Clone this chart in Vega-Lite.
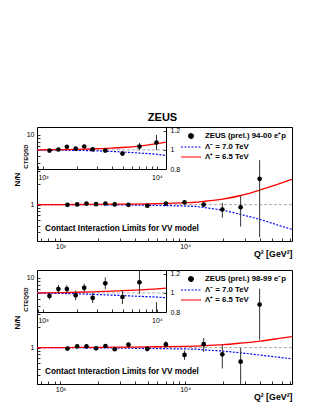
{
  "$schema": "https://vega.github.io/schema/vega-lite/v6.json",
  "padding": {"left": 12, "top": 111, "right": 0, "bottom": 0},
  "bounds": "flush",
  "spacing": 29,
  "config": {
    "font": "Liberation Sans",
    "view": {"stroke": "#000", "strokeWidth": 1},
    "axis": {"grid": false, "tickColor": "#000", "domainColor": "#000", "labelColor": "#000", "titleColor": "#000", "labelFlush": false, "labelOverlap": false, "tickWidth": 0.8},
    "legend": {"padding": 0, "labelFontSize": 7.8, "labelFontWeight": "bold", "labelColor": "#000", "symbolSize": 100, "labelOffset": 8, "rowPadding": 0, "labelLimit": 300}
  },
  "resolve": {"scale": {"color": "independent"}, "legend": {"color": "independent"}},
  "datasets": {
    "topPts": [
      {"q2": 1140, "r": 0.993, "lo": 0.983, "hi": 1.003},
      {"q2": 1365, "r": 1.004, "lo": 0.994, "hi": 1.014},
      {"q2": 1620, "r": 1.033, "lo": 1.022, "hi": 1.044},
      {"q2": 1935, "r": 1.013, "lo": 1.001, "hi": 1.025},
      {"q2": 2300, "r": 1.036, "lo": 1.023, "hi": 1.049},
      {"q2": 2730, "r": 1.006, "lo": 0.992, "hi": 1.02},
      {"q2": 3520, "r": 0.993, "lo": 0.977, "hi": 1.009},
      {"q2": 4980, "r": 0.962, "lo": 0.94, "hi": 0.984},
      {"q2": 7020, "r": 1.035, "lo": 0.997, "hi": 1.073},
      {"q2": 9900, "r": 1.077, "lo": 0.997, "hi": 1.157},
      {"q2": 14100, "r": 1.0, "lo": 0.92, "hi": 1.08},
      {"q2": 19900, "r": 0.85, "lo": 0.65, "hi": 1.05},
      {"q2": 27900, "r": 0.914, "lo": 0.484, "hi": 1.344},
      {"q2": 39600, "r": 2.34, "lo": 0.34, "hi": 4.34}
    ],
    "botPts": [
      {"q2": 1140, "r": 0.968, "lo": 0.933, "hi": 1.003},
      {"q2": 1365, "r": 1.04, "lo": 0.997, "hi": 1.083},
      {"q2": 1620, "r": 1.04, "lo": 0.997, "hi": 1.083},
      {"q2": 1935, "r": 0.975, "lo": 0.925, "hi": 1.025},
      {"q2": 2300, "r": 1.053, "lo": 1.01, "hi": 1.096},
      {"q2": 2730, "r": 0.947, "lo": 0.894, "hi": 1.0},
      {"q2": 3520, "r": 1.1, "lo": 1.038, "hi": 1.162},
      {"q2": 4980, "r": 0.957, "lo": 0.884, "hi": 1.03},
      {"q2": 7020, "r": 1.111, "lo": 0.991, "hi": 1.231},
      {"q2": 9900, "r": 0.784, "lo": 0.664, "hi": 0.904},
      {"q2": 14100, "r": 1.12, "lo": 0.87, "hi": 1.37},
      {"q2": 19900, "r": 0.8, "lo": 0.5, "hi": 1.1},
      {"q2": 27900, "r": 0.627, "lo": 0.267, "hi": 0.987},
      {"q2": 39600, "r": 4.14, "lo": 1.3, "hi": 7.0}
    ],
    "topRed": [
      {"q2": 650, "r": 1.0}, {"q2": 886, "r": 1.0}, {"q2": 1000, "r": 1.001}, {"q2": 1500, "r": 1.003},
      {"q2": 2000, "r": 1.006}, {"q2": 3000, "r": 1.012}, {"q2": 4000, "r": 1.018}, {"q2": 5000, "r": 1.025},
      {"q2": 7000, "r": 1.04}, {"q2": 10000, "r": 1.065}, {"q2": 12000, "r": 1.08}, {"q2": 14000, "r": 1.11},
      {"q2": 20000, "r": 1.2}, {"q2": 28000, "r": 1.35}, {"q2": 40000, "r": 1.62}, {"q2": 55000, "r": 1.95},
      {"q2": 72000, "r": 2.3}
    ],
    "topBlue": [
      {"q2": 650, "r": 1.0}, {"q2": 886, "r": 0.999}, {"q2": 1000, "r": 0.999}, {"q2": 1500, "r": 0.997},
      {"q2": 2000, "r": 0.995}, {"q2": 3000, "r": 0.99}, {"q2": 4000, "r": 0.984}, {"q2": 5000, "r": 0.978},
      {"q2": 7000, "r": 0.967}, {"q2": 10000, "r": 0.953}, {"q2": 12000, "r": 0.94}, {"q2": 14000, "r": 0.91},
      {"q2": 20000, "r": 0.83}, {"q2": 28000, "r": 0.72}, {"q2": 40000, "r": 0.61}, {"q2": 55000, "r": 0.51},
      {"q2": 72000, "r": 0.44}
    ],
    "botRed": [
      {"q2": 650, "r": 1.0}, {"q2": 886, "r": 1.0}, {"q2": 1000, "r": 1.001}, {"q2": 1500, "r": 1.004},
      {"q2": 2000, "r": 1.007}, {"q2": 3000, "r": 1.013}, {"q2": 4000, "r": 1.018}, {"q2": 5000, "r": 1.023},
      {"q2": 7000, "r": 1.032}, {"q2": 10000, "r": 1.042}, {"q2": 12000, "r": 1.05}, {"q2": 14000, "r": 1.065},
      {"q2": 20000, "r": 1.1}, {"q2": 28000, "r": 1.16}, {"q2": 40000, "r": 1.24}, {"q2": 55000, "r": 1.34},
      {"q2": 72000, "r": 1.44}
    ],
    "botBlue": [
      {"q2": 650, "r": 1.0}, {"q2": 886, "r": 0.999}, {"q2": 1000, "r": 0.998}, {"q2": 1500, "r": 0.994},
      {"q2": 2000, "r": 0.99}, {"q2": 3000, "r": 0.983}, {"q2": 4000, "r": 0.977}, {"q2": 5000, "r": 0.972},
      {"q2": 7000, "r": 0.964}, {"q2": 10000, "r": 0.956}, {"q2": 12000, "r": 0.95}, {"q2": 14000, "r": 0.93},
      {"q2": 20000, "r": 0.89}, {"q2": 28000, "r": 0.84}, {"q2": 40000, "r": 0.78}, {"q2": 55000, "r": 0.73},
      {"q2": 72000, "r": 0.69}
    ]
  },
  "vconcat": [
    {
      "width": 255,
      "height": 114,
      "title": {"text": "ZEUS", "fontSize": 11, "fontWeight": "bold", "offset": 4, "dx": -2, "color": "#000"},
      "resolve": {"scale": {"x": "independent", "y": "independent"}},
      "layer": [
        {
          "data": {"values": [{}]},
          "mark": {"type": "rule", "color": "#999", "strokeDash": [3, 2], "strokeWidth": 0.8},
          "encoding": {
            "y": {"datum": 1, "type": "quantitative", "scale": {"type": "log", "domain": [0.3, 13], "nice": false},
              "axis": {"orient": "left", "labels": false, "ticks": false, "domain": false, "title": "CTEQ5D", "titleX": -9, "titleY": 29, "titleFontSize": 6, "titleFontWeight": "bold"}}
          }
        },
        {
          "layer": [
            {
              "data": {"name": "topBlue"},
              "mark": {"type": "line", "strokeDash": [2, 1.5], "strokeWidth": 1.2, "clip": true, "interpolate": "monotone"},
              "encoding": {
                "x": {"field": "q2", "type": "quantitative", "scale": {"type": "log", "domain": [650, 72000], "nice": false},
                  "axis": {"orient": "bottom", "values": [700, 800, 900, 1000, 2000, 3000, 4000, 5000, 6000, 7000, 8000, 9000, 10000, 20000, 30000, 40000, 50000, 60000, 70000], "labelExpr": "datum.value == 1000 ? '10³' : datum.value == 10000 ? '10⁴' : ''", "domain": false, "tickSize": -3, "labelPadding": 8.5, "labelBaseline": "middle", "labelFontSize": 7, "title": "Q²  [GeV²]", "titleX": 255, "titleY": 12, "titleAlign": "right", "titleBaseline": "middle", "titleFontSize": 8.8, "titleFontWeight": "bold"}},
                "y": {"field": "r", "type": "quantitative", "scale": {"type": "log", "domain": [0.3, 13], "nice": false},
                  "axis": {"orient": "left", "values": [0.3, 0.4, 0.5, 0.6, 0.7, 0.8, 0.9, 1, 2, 3, 4, 5, 6, 7, 8, 9, 10], "labelExpr": "datum.value == 1 ? '1' : datum.value == 10 ? '10' : ''", "domain": false, "tickSize": -3, "labelPadding": 6, "labelFontSize": 7, "title": "N/N", "titleX": -16, "titleY": 52, "titleFontSize": 8, "titleFontWeight": "bold"}},
                "color": {"datum": "Λ⁻ = 7.0 TeV", "scale": {"domain": ["ZEUS (prel.) 94-00 e⁺p", "Λ⁻ = 7.0 TeV", "Λ⁺ = 6.5 TeV"], "range": ["#000000", "#0000ff", "#ff0000"]},
                  "legend": {"orient": "none", "legendX": 148, "legendY": 3, "title": null,
                    "encode": {"symbols": {"update": {
                      "shape": {"signal": "datum.index === 0 ? 'circle' : 'M-2,0H2'"},
                      "size": {"signal": "datum.index === 0 ? 22 : 100"},
                      "fill": {"signal": "datum.index === 0 ? '#000' : 'transparent'"},
                      "stroke": {"signal": "datum.index === 0 ? 'transparent' : datum.index === 1 ? '#0000ff' : '#ff0000'"},
                      "strokeDash": {"signal": "datum.index === 1 ? [2, 1.5] : [1, 0]"},
                      "strokeWidth": {"value": 1.2}
                    }}}}}
              }
            },
            {
              "data": {"name": "topRed"},
              "mark": {"type": "line", "strokeWidth": 1.3, "clip": true, "interpolate": "monotone"},
              "encoding": {
                "x": {"field": "q2", "type": "quantitative", "scale": {"type": "log", "domain": [650, 72000], "nice": false}},
                "y": {"field": "r", "type": "quantitative", "scale": {"type": "log", "domain": [0.3, 13], "nice": false}},
                "color": {"datum": "Λ⁺ = 6.5 TeV"}
              }
            },
            {
              "data": {"name": "topPts"},
              "mark": {"type": "rule", "color": "#333", "strokeWidth": 1, "clip": true},
              "encoding": {
                "x": {"field": "q2", "type": "quantitative", "scale": {"type": "log", "domain": [650, 72000], "nice": false}},
                "y": {"field": "lo", "type": "quantitative", "scale": {"type": "log", "domain": [0.3, 13], "nice": false}},
                "y2": {"field": "hi"}
              }
            },
            {
              "data": {"name": "topPts"},
              "mark": {"type": "point", "filled": true, "size": 22, "opacity": 1, "clip": true},
              "encoding": {
                "x": {"field": "q2", "type": "quantitative", "scale": {"type": "log", "domain": [650, 72000], "nice": false}},
                "y": {"field": "r", "type": "quantitative", "scale": {"type": "log", "domain": [0.3, 13], "nice": false}},
                "color": {"datum": "ZEUS (prel.) 94-00 e⁺p"}
              }
            },
            {
              "data": {"values": [{}]},
              "mark": {"type": "text", "text": "Contact Interaction Limits for VV model", "align": "left", "baseline": "middle", "fontSize": 8.2, "fontWeight": "bold", "color": "#000"},
              "encoding": {
                "x": {"datum": 755, "type": "quantitative", "scale": {"type": "log", "domain": [650, 72000], "nice": false}},
                "y": {"datum": 0.44, "type": "quantitative", "scale": {"type": "log", "domain": [0.3, 13], "nice": false}}
              }
            }
          ]
        },
        {
          "layer": [
            {
              "data": {"values": [{}]},
              "mark": {"type": "rule", "color": "#999", "strokeDash": [3, 2], "strokeWidth": 0.8},
              "encoding": {
                "x": {"datum": 886, "type": "quantitative", "scale": {"type": "log", "domain": [886, 12000], "range": [0, 129], "nice": false},
                  "axis": {"orient": "bottom", "offset": -72, "values": [900, 1000, 2000, 3000, 4000, 5000, 6000, 7000, 8000, 9000, 10000], "labelExpr": "datum.value == 1000 ? '10³' : datum.value == 10000 ? '10⁴' : ''", "domain": true, "tickSize": -3, "labelPadding": 11.7, "labelBaseline": "middle", "labelFontSize": 7, "title": null}},
                "x2": {"datum": 12000},
                "y": {"datum": 1, "type": "quantitative", "scale": {"domain": [0.8, 1.24], "range": [42, 0], "nice": false, "zero": false, "clamp": true},
                  "axis": {"orient": "right", "offset": -126, "values": [0.8, 0.85, 0.9, 0.95, 1, 1.05, 1.1, 1.15, 1.2], "labelExpr": "datum.value == 0.8 ? '0.8' : datum.value == 1 ? '1' : datum.value == 1.2 ? '1.2' : ''", "domain": true, "tickSize": -3, "labelPadding": 7, "labelFontSize": 7, "title": null}}
              }
            },
            {
              "data": {"name": "topBlue"},
              "transform": [{"filter": "datum.q2 >= 886 && datum.q2 <= 12000"}],
              "mark": {"type": "line", "strokeDash": [2, 1.5], "strokeWidth": 1.2, "interpolate": "monotone"},
              "encoding": {
                "x": {"field": "q2", "type": "quantitative"},
                "y": {"field": "r", "type": "quantitative"},
                "color": {"datum": "Λ⁻ = 7.0 TeV"}
              }
            },
            {
              "data": {"name": "topRed"},
              "transform": [{"filter": "datum.q2 >= 886 && datum.q2 <= 12000"}],
              "mark": {"type": "line", "strokeWidth": 1.3, "interpolate": "monotone"},
              "encoding": {
                "x": {"field": "q2", "type": "quantitative"},
                "y": {"field": "r", "type": "quantitative"},
                "color": {"datum": "Λ⁺ = 6.5 TeV"}
              }
            },
            {
              "data": {"name": "topPts"},
              "transform": [{"filter": "datum.q2 <= 12000"}],
              "mark": {"type": "rule", "color": "#333", "strokeWidth": 1},
              "encoding": {
                "x": {"field": "q2", "type": "quantitative"},
                "y": {"field": "lo", "type": "quantitative"},
                "y2": {"field": "hi"}
              }
            },
            {
              "data": {"name": "topPts"},
              "transform": [{"filter": "datum.q2 <= 12000 && datum.r >= 0.8"}],
              "mark": {"type": "point", "filled": true, "size": 22, "opacity": 1},
              "encoding": {
                "x": {"field": "q2", "type": "quantitative"},
                "y": {"field": "r", "type": "quantitative"},
                "color": {"datum": "ZEUS (prel.) 94-00 e⁺p"}
              }
            }
          ]
        }
      ]
    },
    {
      "width": 255,
      "height": 114,
      "resolve": {"scale": {"x": "independent", "y": "independent"}},
      "layer": [
        {
          "data": {"values": [{}]},
          "mark": {"type": "rule", "color": "#999", "strokeDash": [3, 2], "strokeWidth": 0.8},
          "encoding": {
            "y": {"datum": 1, "type": "quantitative", "scale": {"type": "log", "domain": [0.3, 13], "nice": false},
              "axis": {"orient": "left", "labels": false, "ticks": false, "domain": false, "title": "CTEQ5D", "titleX": -9, "titleY": 29, "titleFontSize": 6, "titleFontWeight": "bold"}}
          }
        },
        {
          "layer": [
            {
              "data": {"name": "botBlue"},
              "mark": {"type": "line", "strokeDash": [2, 1.5], "strokeWidth": 1.2, "clip": true, "interpolate": "monotone"},
              "encoding": {
                "x": {"field": "q2", "type": "quantitative", "scale": {"type": "log", "domain": [650, 72000], "nice": false},
                  "axis": {"orient": "bottom", "values": [700, 800, 900, 1000, 2000, 3000, 4000, 5000, 6000, 7000, 8000, 9000, 10000, 20000, 30000, 40000, 50000, 60000, 70000], "labelExpr": "datum.value == 1000 ? '10³' : datum.value == 10000 ? '10⁴' : ''", "domain": false, "tickSize": -3, "labelPadding": 8.5, "labelBaseline": "middle", "labelFontSize": 7, "title": "Q²  [GeV²]", "titleX": 255, "titleY": 12, "titleAlign": "right", "titleBaseline": "middle", "titleFontSize": 8.8, "titleFontWeight": "bold"}},
                "y": {"field": "r", "type": "quantitative", "scale": {"type": "log", "domain": [0.3, 13], "nice": false},
                  "axis": {"orient": "left", "values": [0.3, 0.4, 0.5, 0.6, 0.7, 0.8, 0.9, 1, 2, 3, 4, 5, 6, 7, 8, 9, 10], "labelExpr": "datum.value == 1 ? '1' : datum.value == 10 ? '10' : ''", "domain": false, "tickSize": -3, "labelPadding": 6, "labelFontSize": 7, "title": "N/N", "titleX": -16, "titleY": 52, "titleFontSize": 8, "titleFontWeight": "bold"}},
                "color": {"datum": "Λ⁻ = 7.0 TeV", "scale": {"domain": ["ZEUS (prel.) 98-99 e⁻p", "Λ⁻ = 7.0 TeV", "Λ⁺ = 6.5 TeV"], "range": ["#000000", "#0000ff", "#ff0000"]},
                  "legend": {"orient": "none", "legendX": 148, "legendY": 3, "title": null,
                    "encode": {"symbols": {"update": {
                      "shape": {"signal": "datum.index === 0 ? 'circle' : 'M-2,0H2'"},
                      "size": {"signal": "datum.index === 0 ? 22 : 100"},
                      "fill": {"signal": "datum.index === 0 ? '#000' : 'transparent'"},
                      "stroke": {"signal": "datum.index === 0 ? 'transparent' : datum.index === 1 ? '#0000ff' : '#ff0000'"},
                      "strokeDash": {"signal": "datum.index === 1 ? [2, 1.5] : [1, 0]"},
                      "strokeWidth": {"value": 1.2}
                    }}}}}
              }
            },
            {
              "data": {"name": "botRed"},
              "mark": {"type": "line", "strokeWidth": 1.3, "clip": true, "interpolate": "monotone"},
              "encoding": {
                "x": {"field": "q2", "type": "quantitative", "scale": {"type": "log", "domain": [650, 72000], "nice": false}},
                "y": {"field": "r", "type": "quantitative", "scale": {"type": "log", "domain": [0.3, 13], "nice": false}},
                "color": {"datum": "Λ⁺ = 6.5 TeV"}
              }
            },
            {
              "data": {"name": "botPts"},
              "mark": {"type": "rule", "color": "#333", "strokeWidth": 1, "clip": true},
              "encoding": {
                "x": {"field": "q2", "type": "quantitative", "scale": {"type": "log", "domain": [650, 72000], "nice": false}},
                "y": {"field": "lo", "type": "quantitative", "scale": {"type": "log", "domain": [0.3, 13], "nice": false}},
                "y2": {"field": "hi"}
              }
            },
            {
              "data": {"name": "botPts"},
              "mark": {"type": "point", "filled": true, "size": 22, "opacity": 1, "clip": true},
              "encoding": {
                "x": {"field": "q2", "type": "quantitative", "scale": {"type": "log", "domain": [650, 72000], "nice": false}},
                "y": {"field": "r", "type": "quantitative", "scale": {"type": "log", "domain": [0.3, 13], "nice": false}},
                "color": {"datum": "ZEUS (prel.) 98-99 e⁻p"}
              }
            },
            {
              "data": {"values": [{}]},
              "mark": {"type": "text", "text": "Contact Interaction Limits for VV model", "align": "left", "baseline": "middle", "fontSize": 8.2, "fontWeight": "bold", "color": "#000"},
              "encoding": {
                "x": {"datum": 755, "type": "quantitative", "scale": {"type": "log", "domain": [650, 72000], "nice": false}},
                "y": {"datum": 0.44, "type": "quantitative", "scale": {"type": "log", "domain": [0.3, 13], "nice": false}}
              }
            }
          ]
        },
        {
          "layer": [
            {
              "data": {"values": [{}]},
              "mark": {"type": "rule", "color": "#999", "strokeDash": [3, 2], "strokeWidth": 0.8},
              "encoding": {
                "x": {"datum": 886, "type": "quantitative", "scale": {"type": "log", "domain": [886, 12000], "range": [0, 129], "nice": false},
                  "axis": {"orient": "bottom", "offset": -72, "values": [900, 1000, 2000, 3000, 4000, 5000, 6000, 7000, 8000, 9000, 10000], "labelExpr": "datum.value == 1000 ? '10³' : datum.value == 10000 ? '10⁴' : ''", "domain": true, "tickSize": -3, "labelPadding": 11.7, "labelBaseline": "middle", "labelFontSize": 7, "title": null}},
                "x2": {"datum": 12000},
                "y": {"datum": 1, "type": "quantitative", "scale": {"domain": [0.8, 1.24], "range": [42, 0], "nice": false, "zero": false, "clamp": true},
                  "axis": {"orient": "right", "offset": -126, "values": [0.8, 0.85, 0.9, 0.95, 1, 1.05, 1.1, 1.15, 1.2], "labelExpr": "datum.value == 0.8 ? '0.8' : datum.value == 1 ? '1' : datum.value == 1.2 ? '1.2' : ''", "domain": true, "tickSize": -3, "labelPadding": 7, "labelFontSize": 7, "title": null}}
              }
            },
            {
              "data": {"name": "botBlue"},
              "transform": [{"filter": "datum.q2 >= 886 && datum.q2 <= 12000"}],
              "mark": {"type": "line", "strokeDash": [2, 1.5], "strokeWidth": 1.2, "interpolate": "monotone"},
              "encoding": {
                "x": {"field": "q2", "type": "quantitative"},
                "y": {"field": "r", "type": "quantitative"},
                "color": {"datum": "Λ⁻ = 7.0 TeV"}
              }
            },
            {
              "data": {"name": "botRed"},
              "transform": [{"filter": "datum.q2 >= 886 && datum.q2 <= 12000"}],
              "mark": {"type": "line", "strokeWidth": 1.3, "interpolate": "monotone"},
              "encoding": {
                "x": {"field": "q2", "type": "quantitative"},
                "y": {"field": "r", "type": "quantitative"},
                "color": {"datum": "Λ⁺ = 6.5 TeV"}
              }
            },
            {
              "data": {"name": "botPts"},
              "transform": [{"filter": "datum.q2 <= 12000"}],
              "mark": {"type": "rule", "color": "#333", "strokeWidth": 1},
              "encoding": {
                "x": {"field": "q2", "type": "quantitative"},
                "y": {"field": "lo", "type": "quantitative"},
                "y2": {"field": "hi"}
              }
            },
            {
              "data": {"name": "botPts"},
              "transform": [{"filter": "datum.q2 <= 12000 && datum.r >= 0.8"}],
              "mark": {"type": "point", "filled": true, "size": 22, "opacity": 1},
              "encoding": {
                "x": {"field": "q2", "type": "quantitative"},
                "y": {"field": "r", "type": "quantitative"},
                "color": {"datum": "ZEUS (prel.) 98-99 e⁻p"}
              }
            }
          ]
        }
      ]
    }
  ]
}
